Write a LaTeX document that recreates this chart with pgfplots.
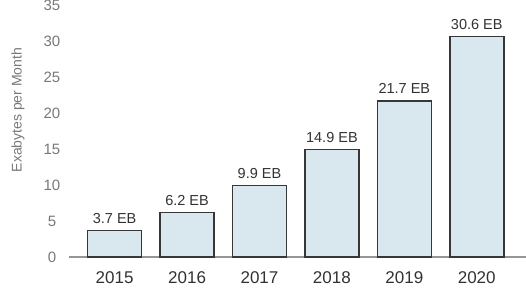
\documentclass[border=0pt]{standalone}
\usepackage{pgfplots}
\pgfplotsset{compat=1.18}
\usepackage{fontspec}
\setmainfont{Liberation Sans}

\definecolor{barfill}{RGB}{216,232,238}
\definecolor{baredge}{RGB}{55,55,55}
\definecolor{basegray}{RGB}{150,150,150}
\definecolor{ticktext}{RGB}{120,120,120}
\definecolor{labeltext}{RGB}{50,50,50}

\begin{document}
\begin{tikzpicture}
\useasboundingbox (0,0) rectangle (526bp,291bp);
\begin{axis}[
  at={(69bp,34bp)}, anchor=south west,
  scale only axis,
  width=457bp, height=257bp,
  xmin=-0.63, xmax=5.68,
  ymin=0, ymax=35.7,
  ybar, bar width=54bp,
  axis x line*=bottom, axis y line*=left,
  x axis line style={draw=basegray, line width=1.3bp, -},
  y axis line style={draw=none},
  major tick length=0pt,
  xtick=data,
  xticklabels={2015,2016,2017,2018,2019,2020},
  xticklabel style={font=\fontsize{17bp}{20bp}\selectfont, text=labeltext, yshift=-11bp},
  ytick={0,5,...,35},
  yticklabel style={font=\fontsize{15bp}{18bp}\selectfont, text=ticktext, anchor=center, xshift=-17bp},
  /pgf/number format/assume math mode=true,
  nodes near coords={\pgfmathprintnumber[fixed,precision=1,fixed zerofill]{\pgfplotspointmeta}~EB},
  nodes near coords style={font=\fontsize{14.5bp}{17bp}\selectfont, text=labeltext, anchor=south, yshift=3bp},
  clip=false,
]
\addplot[fill=barfill, draw=baredge, line width=1.5bp] coordinates {
  (0,3.7) (1,6.2) (2,9.9) (3,14.9) (4,21.7) (5,30.6)
};
% y-axis title, set a little above the middle of the value range
\node[xshift=-51bp, rotate=90, anchor=center, font=\fontsize{14bp}{17bp}\selectfont, text=ticktext]
  at (rel axis cs:0,0.572) {Exabytes per Month};
\end{axis}
\end{tikzpicture}
\end{document}
